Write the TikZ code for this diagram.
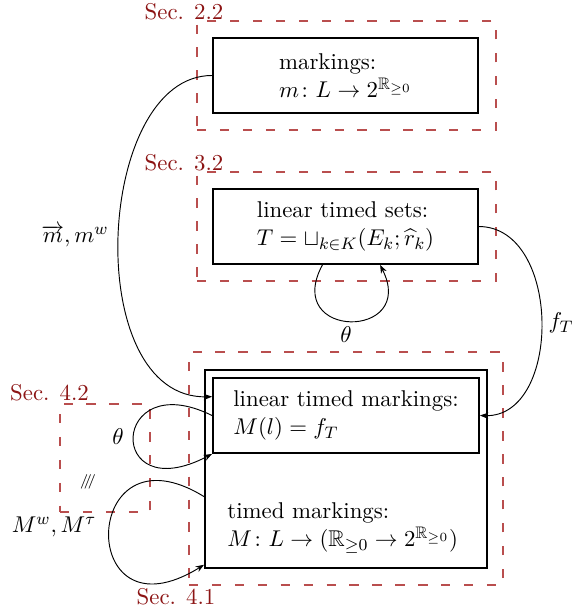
\documentclass[tikz,border=0pt]{standalone}
\usepackage{amsmath,amssymb}
\usetikzlibrary{arrows.meta}
\definecolor{secred}{RGB}{140,20,20}
\definecolor{framered}{RGB}{185,78,78}
\begin{document}
\begin{tikzpicture}[x=0.48pt,y=-0.48pt,
  font=\fontsize{10.95}{13.6}\selectfont,
  box/.style={draw,line width=0.9pt,inner sep=0pt,align=left},
  frame/.style={draw=framered,line width=0.55pt,dash pattern=on 4.5pt off 6.5pt,inner sep=0pt},
  seclabel/.style={text=secred,inner sep=0pt},
  conn/.style={line width=0.45pt,-{Stealth[length=4pt,width=3pt]}},
  lbl/.style={inner sep=0pt}]
\useasboundingbox (0,0) rectangle (579,614);
% section frames
\node[frame,minimum width=143.5pt,minimum height=52.3pt] (s22) at (346.5,75.5) {};
\node[frame,minimum width=143.5pt,minimum height=52.3pt] (s32) at (346.5,226.5) {};
\node[frame,minimum width=150.7pt,minimum height=111.8pt] (s41) at (346,468.5) {};
\node[frame,minimum width=43.2pt,minimum height=51.8pt] (s42) at (105,458) {};
\node[seclabel] (l22) at (184,12) {Sec. 2.2};
\node[seclabel] (l32) at (184,163) {Sec. 3.2};
\node[seclabel] (l42) at (49.5,393) {Sec. 4.2};
\node[seclabel] (l41) at (176,597) {Sec. 4.1};
% boxes
\node[box,minimum width=127.2pt,minimum height=36pt] (mk) at (345.5,75.5)
  {markings:\\ $m\colon L\to 2^{\mathbb{R}_{\geq 0}}$};
\node[box,minimum width=127.2pt,minimum height=36pt] (lts) at (345.5,226.5)
  {linear timed sets:\\ $T=\sqcup_{k\in K}(E_k;\widehat{r}_k)$};
\node[box,minimum width=135.4pt,minimum height=95pt] (tm) at (346,469) {};
\node[box,minimum width=127.7pt,minimum height=36pt] (ltm) at (346,415.5)
  {linear timed markings:\\ $M(l)=f_T$};
\node[lbl,anchor=west,align=left] (tmtext) at (227,528)
  {timed markings:\\ $M\colon L\to(\mathbb{R}_{\geq 0}\to 2^{\mathbb{R}_{\geq 0}})$};
% connectors
\draw[conn] (mk.west) .. controls (95,75) and (80,400) .. (ltm.172);
\node[lbl] (lm) at (75,236) {$\overrightarrow{m}, m^w$};
\draw[conn] (lts.east) .. controls (562,227) and (562,418) .. (ltm.east);
\node[lbl] (lf) at (561,323) {$f_T$};
\draw[conn] (lts.239) .. controls (282,340) and (418,340) .. (lts.312);
\node[lbl] (lt1) at (346,335) {$\theta$};
\draw[conn] (ltm.west) .. controls (110,365) and (105,510) .. (ltm.south west);
\node[lbl] (lt2) at (118,437) {$\theta$};
\node[lbl] (iso) at (88,482) {\scriptsize$/\mkern-5mu/\mkern-5mu/$};
\draw[conn] (tm.191) .. controls (80,420) and (75,645) .. (tm.214);
\node[lbl] (lM) at (54,527) {$M^w, M^\tau$};
\end{tikzpicture}
\end{document}
